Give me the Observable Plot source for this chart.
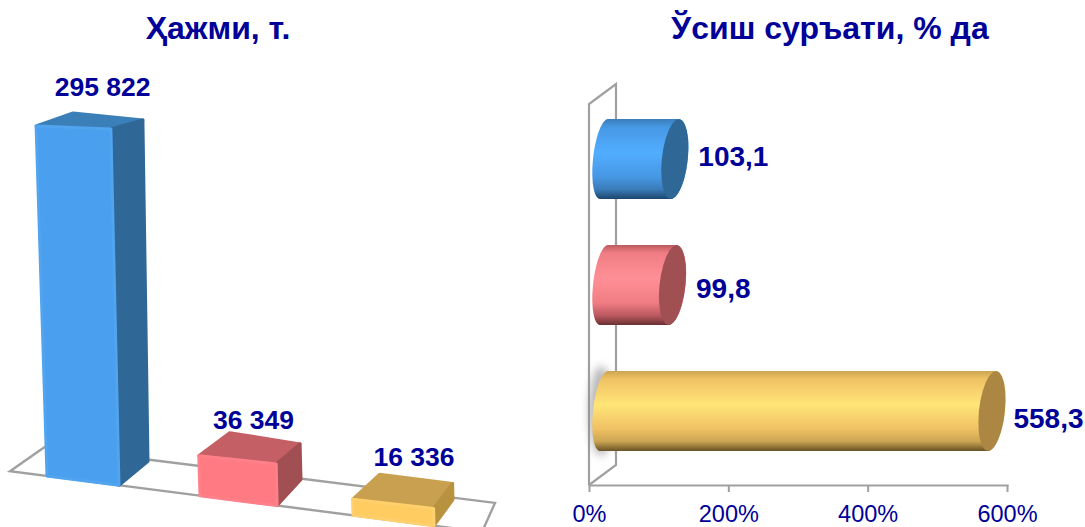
<!DOCTYPE html>
<html><head><meta charset="utf-8">
<script src="https://cdn.jsdelivr.net/npm/d3@7"></script>
<script src="https://cdn.jsdelivr.net/npm/@observablehq/plot@0.6"></script>
<style>
html,body{margin:0;padding:0;background:#fff;width:1085px;height:527px;overflow:hidden;font-family:"Liberation Sans",Arial,sans-serif}
.t{position:absolute;top:11px;font-size:32px;font-weight:bold;color:#000099;white-space:nowrap;transform:translateX(-50%);line-height:34px}
.c{position:absolute;top:0}
svg{overflow:visible}
</style></head><body>
<div class="t" style="left:218px">Ҳажми, т.</div>
<div class="t" style="left:830px">Ўсиш суръати, % да</div>
<div class="c" id="left" style="left:0"></div>
<div class="c" id="right" style="left:570px"></div>
<script>
const categories = ["A","B","C"];
const volume = [295822, 36349, 16336];
const volumeLabels = ["295 822","36 349","16 336"];
const growth = [103.1, 99.8, 558.3];
const growthLabels = ["103,1","99,8","558,3"];
const growthTicks = [0,200,400,600];
const palette = {
  front:["#4a9fee","#ff7a82","#ffcc62"], rim:["#50a4f0","#ff8088","#ffd06c"],
  top:["#3b7fb8","#c46065","#c9a04f"], side:["#2f6796","#a24f53","#b8923f"],
  cap:["#2f6796","#a05053","#ab8743"],
  hi:["#52adff","#ff8f96","#ffe577"], mid:["#4698e4","#f07d84","#f0c264"], lo:["#1b466c","#6a2f33","#6a5226"], edge:["#3a7cb8","#bb5a60","#cba552"]
};
const ink = "#000099", frame = "#a0a0a0";
const NS = "http://www.w3.org/2000/svg";
const el = (p,n,a)=>{const e=document.createElementNS(NS,n);for(const k in a)e.setAttribute(k,a[k]);p.appendChild(e);return e;};
const poly = pts => pts.map(p=>p.map(v=>v.toFixed(1)).join(",")).join(" ");

// LEFT: perspective view of a bar chart
const lData = categories.map((c,i)=>({c,v:volume[i],l:volumeLabels[i],i}));
const floorY = x => 476 + 0.1285*(x-47);
const sink = 3.5;
const widthAt = d3.scaleLinear([47,196,354],[72,77,81]);
const pieces = a => d3.scaleLinear([47,196,354],a);
const dTL=[pieces([37,31,27]),pieces([-13,-23,-25])], dTR=[pieces([32,24,19]),pieces([-9,-20,-25])], dBR=[pieces([29,24,19]),pieces([-24,-26,-26])];
function corners(d,s){
  const x0=s.x(d.c), x1=x0+widthAt(x0);
  const h=s.y(0)-s.y(d.v)-sink, hr=h*1.015+1;
  const BL=[x0,floorY(x0)], BR=[x1,floorY(x1)], TL=[x0-0.031*h,floorY(x0)-h], TR=[x1-0.023*h,floorY(x1)-hr];
  return {x0,BL,BR,TL,TR,h,
    BTL:[TL[0]+dTL[0](x0),TL[1]+dTL[1](x0)], BTR:[TR[0]+dTR[0](x0),TR[1]+dTR[1](x0)], BBR:[BR[0]+dBR[0](x0),BR[1]+dBR[1](x0)]};
}
const boxes = (index,s)=>{
  const g=document.createElementNS(NS,"g");
  const [a,b]=[10,482];
  const fl=[[a,floorY(a)],[a+35,floorY(a)-24.5],[b+13,floorY(b)-29],[b,floorY(b)]];
  el(g,"polygon",{points:poly(fl),fill:"none",stroke:frame,"stroke-width":2.4});
  lData.forEach((d,i)=>{
    const k=corners(d,s);
    const st=f=>({fill:f,stroke:f,"stroke-width":3,"stroke-linejoin":"round"});
    el(g,"polygon",{points:poly([k.TL,k.BTL,k.BTR,k.TR]),...st(palette.top[i])});
    el(g,"polygon",{points:poly([k.TR,k.BTR,k.BBR,k.BR]),...st(palette.side[i])});
    el(g,"polygon",{points:poly([k.TL,k.TR,k.BR,k.BL]),fill:palette.front[i],stroke:palette.rim[i],"stroke-width":3,"stroke-linejoin":"round"});
  });
  return g;
};
const lLabelOff = [[29,-31],[16,-31],[21,-38]];
const leftPlot = Plot.plot({
  width:510,height:527,margin:0,
  x:{type:"band",domain:categories,range:[10,482],paddingInner:.49,paddingOuter:.28,align:.425,axis:null},
  y:{type:"linear",domain:[0,300000],range:[358.5,0],axis:null},
  marks:[
    Plot.barY(lData,{x:"c",y:"v",fill:"c",render:(index,s)=>boxes(index,s)}),
    Plot.text(lData,{x:"c",y:"v",text:"l",fill:ink,fontWeight:"bold",fontSize:26.5,fontFamily:"Liberation Sans",
      render(index,s,v,dim,ctx,next){
        const g=next(index,s,v,dim,ctx);
        g.removeAttribute("transform");
        d3.select(g).selectAll("text").each(function(_,j){
          const d=lData[index[j]], k=corners(d,s), c=[(k.TL[0]+k.TR[0])/2,(k.TL[1]+k.TR[1])/2], o=lLabelOff[d.i];
          this.removeAttribute("x");this.removeAttribute("y");
          this.setAttribute("transform",`translate(${c[0]+o[0]},${c[1]+o[1]})`);
        });
        return g;
      }})
  ]
});
document.getElementById("left").appendChild(leftPlot);

// RIGHT: horizontal cylinders
const rData = categories.map((c,i)=>({c,v:growth[i],l:growthLabels[i],i}));
const depthX = 14, rx = 13, tilt = 4;
const labelDy = [-2,3.5,8], labelDx=[37,37,35];
const cyl = (index,s)=>{
  const g=document.createElementNS(NS,"g");
  const defs=el(g,"defs",{});
  const xa=s.x(0), bottom=485;
  const wallTop=104, dpx=27, dpy=20;
  el(g,"polyline",{points:poly([[xa,bottom],[xa,wallTop],[xa+dpx,wallTop-dpy],[xa+dpx,bottom-dpy],[xa,bottom]]),fill:"none",stroke:frame,"stroke-width":2.2});
  const blur=el(defs,"filter",{id:"sm",x:"-100%",y:"-50%",width:"300%",height:"200%"});
  el(blur,"feGaussianBlur",{stdDeviation:4});
  rData.forEach((d,i)=>{
    const y0=s.y(d.c), bw=s.y.bandwidth(), ym=y0+bw/2, ry=bw/2;
    const gr=el(defs,"linearGradient",{id:"cy"+i,x1:0,y1:0,x2:0,y2:1});
    [[0,palette.edge[i]],[.1,palette.mid[i]],[.42,palette.hi[i]],[.72,palette.mid[i]],[.88,palette.edge[i]],[1,palette.lo[i]]].forEach(([o,c])=>el(gr,"stop",{offset:o,"stop-color":c}));
    const x0=s.x(0)+depthX, x1=s.x(d.v)+depthX;
    const pt=(cx,t,r)=>[cx+r*Math.cos(t)-tilt*Math.sin(t),ym+ry*Math.sin(t)];
    const half=(cx,r,from,to)=>d3.range(25).map(j=>pt(cx,from+(to-from)*j/24,r));
    if(i===2) el(g,"ellipse",{cx:x0-2,cy:ym,rx:12,ry:ry+5,fill:"#888",opacity:.6,filter:"url(#sm)"});
    const body=[...half(x0+1,rx-2,-Math.PI/2,-3*Math.PI/2),...half(x1,rx,Math.PI/2,-Math.PI/2)];
    el(g,"polygon",{points:poly(body),fill:`url(#cy${i})`});
    el(g,"polygon",{points:poly(half(x1,rx,0,2*Math.PI)),fill:palette.cap[i]});
  });
  return g;
};
const rightPlot = Plot.plot({
  width:515,height:527,marginTop:0,marginBottom:42,marginLeft:19,marginRight:78,
  x:{domain:[0,600],range:[19,437],axis:null},
  y:{type:"band",domain:categories,range:[118,452.5],paddingInner:.365,paddingOuter:0,axis:null},
  marks:[
    Plot.frame({anchor:"bottom",stroke:frame,strokeWidth:2.2}),
    Plot.axisX({ticks:growthTicks,tickFormat:()=>"",tickSize:7,color:frame,strokeWidth:2,anchor:"bottom",label:null}),
    Plot.axisX({ticks:growthTicks,tickFormat:d=>d+"%",tickSize:0,tickPadding:20,color:ink,fontSize:23.5,fontFamily:"Liberation Sans",anchor:"bottom",label:null}),
    Plot.barX(rData,{x:"v",y:"c",fill:"c",render:(index,s)=>cyl(index,s)}),
    ...rData.map((d,i)=>Plot.text([d],{x:"v",y:"c",text:"l",dx:labelDx[i],dy:labelDy[i],textAnchor:"start",fill:ink,fontWeight:"bold",fontSize:28,fontFamily:"Liberation Sans"}))
  ]
});
document.getElementById("right").appendChild(rightPlot);
</script></body></html>
